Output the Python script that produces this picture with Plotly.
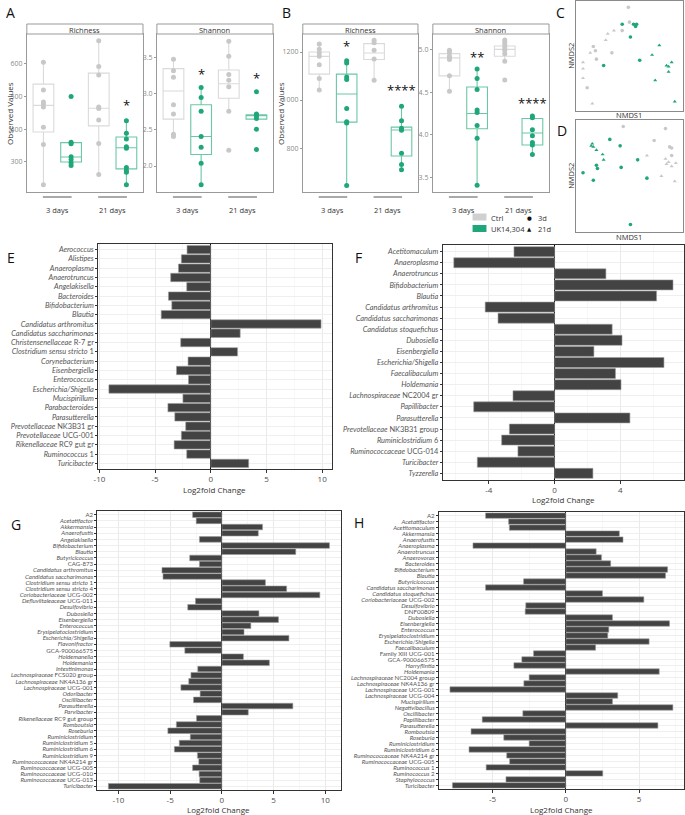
import plotly.graph_objects as go

W, H = 685, 815
FONT = "Open Sans"
LFONT = "Lato"

# ---------------- A: alpha diversity (Ctrl 3d, UK 3d, Ctrl 21d, UK 21d) ----------------
A_rich_ctrl3 = [605, 520, 483, 477, 468, 406, 353, 229]
A_rich_uk3 = [500, 360, 355, 315, 307, 297, 288]
A_rich_ctrl21 = [671, 592, 566, 468, 463, 428, 356, 261]
A_rich_uk21 = [426, 387, 370, 346, 341, 282, 273, 268, 229]
A_rich_lo = [229, 288, 261, 229]
A_rich_q1 = [391, 299, 410, 278]
A_rich_med = [473, 314.5, 464, 343]
A_rich_q3 = [538, 358.5, 572, 376]
A_rich_hi = [605, 360, 671, 426]
A_rich_sig_x = [4]
A_rich_sig_y = [482]
A_rich_sig = ["*"]

A_shan_ctrl3 = [3.48, 3.32, 3.23, 2.85, 2.72, 2.44, 2.41]
A_shan_uk3 = [3.09, 2.95, 2.76, 2.41, 2.26, 2.04, 1.74]
A_shan_ctrl21 = [3.73, 3.52, 3.27, 3.19, 3.10, 2.76, 2.22]
A_shan_uk21 = [3.03, 2.72, 2.70, 2.70, 2.66, 2.51, 2.23]
A_shan_lo = [2.41, 1.74, 2.76, 2.65]
A_shan_q1 = [2.65, 2.16, 2.94, 2.65]
A_shan_med = [3.04, 2.41, 3.14, 2.70]
A_shan_q3 = [3.35, 2.85, 3.33, 2.71]
A_shan_hi = [3.48, 3.09, 3.73, 2.72]
A_shan_sig_x = [2, 4]
A_shan_sig_y = [3.32, 3.26]
A_shan_sig = ["*", "*"]

# ---------------- B ----------------
B_rich_ctrl3 = [1233, 1212, 1196, 1182, 1147, 1090, 1042]
B_rich_uk3 = [1164, 1154, 1096, 1086, 965, 910, 904, 644]
B_rich_ctrl21 = [1249, 1239, 1207, 1171, 1082]
B_rich_uk21 = [974, 914, 883, 874, 778, 732, 710]
B_rich_lo = [1042, 644, 1082, 710]
B_rich_q1 = [1108, 908, 1169, 767]
B_rich_med = [1182, 1025, 1196, 875]
B_rich_q3 = [1200, 1108, 1235, 887]
B_rich_hi = [1233, 1164, 1249, 974]
B_rich_sig_x = [2, 4]
B_rich_sig_y = [1236, 1054]
B_rich_sig = ["*", "****"]

B_shan_ctrl3 = [4.99, 4.96, 4.92, 4.90, 4.88, 4.69, 4.51]
B_shan_uk3 = [4.77, 4.66, 4.53, 4.29, 4.26, 4.11, 3.96, 3.41]
B_shan_ctrl21 = [5.11, 5.08, 5.05, 5.02, 4.99, 4.95, 4.86, 4.64]
B_shan_uk21 = [4.22, 4.20, 4.06, 3.99, 3.91, 3.88, 3.77]
B_shan_lo = [4.51, 3.41, 4.86, 3.77]
B_shan_q1 = [4.69, 4.07, 4.92, 3.88]
B_shan_med = [4.90, 4.25, 5.00, 4.02]
B_shan_q3 = [4.95, 4.56, 5.04, 4.19]
B_shan_hi = [4.99, 4.77, 5.11, 4.22]
B_shan_sig_x = [2, 4]
B_shan_sig_y = [4.94, 4.41]
B_shan_sig = ["**", "****"]

day_labels = ["3 days", "21 days"]

# ---------------- C / D: NMDS ----------------
C_ctrl3_x = [0.49, 0.50, 0.43, 0.33, 0.18, 0.15, 0.17, 0.09]
C_ctrl3_y = [0.96, 0.82, 0.74, 0.53, 0.47, 0.59, 0.55, 0.20]
C_ctrl21_x = [0.35, 0.29, 0.27, 0.12, 0.05, 0.05, 0.05, 0.14]
C_ctrl21_y = [0.74, 0.71, 0.65, 0.53, 0.44, 0.38, 0.29, 0.05]
C_uk3_x = [0.43, 0.54, 0.57, 0.56, 0.51, 0.60, 0.25]
C_uk3_y = [0.80, 0.80, 0.80, 0.78, 0.68, 0.46, 0.41]
C_uk21_x = [0.79, 0.72, 0.91, 0.86, 0.88, 0.88, 0.75, 0.94]
C_uk21_y = [0.60, 0.51, 0.44, 0.41, 0.40, 0.35, 0.27, 0.07]

D_ctrl3_x = [0.44, 0.85, 0.74, 0.89, 0.91, 0.91]
D_ctrl3_y = [0.96, 0.94, 0.83, 0.77, 0.76, 0.69]
D_ctrl21_x = [0.67, 0.85, 0.88, 0.91, 0.86, 0.95, 0.81, 0.94]
D_ctrl21_y = [0.69, 0.66, 0.63, 0.59, 0.61, 0.62, 0.50, 0.45]
D_uk3_x = [0.31, 0.41, 0.18, 0.19, 0.05, 0.15, 0.42, 0.58, 0.67, 0.51]
D_uk3_y = [0.84, 0.78, 0.60, 0.57, 0.53, 0.46, 0.58, 0.65, 0.48, 0.05]
D_uk21_x = [0.14, 0.13, 0.15, 0.18, 0.24, 0.25]
D_uk21_y = [0.80, 0.78, 0.77, 0.74, 0.70, 0.65]

# ---------------- E ----------------
E_genera = ["Aerococcus", "Alistipes", "Anaeroplasma", "Anaerotruncus", "Angelakisella",
            "Bacteroides", "Bifidobacterium", "Blautia", "Candidatus arthromitus",
            "Candidatus saccharimonas", "Christensenellaceae R-7 gr", "Clostridium sensu stricto 1",
            "Corynebacterium", "Eisenbergiella", "Enterococcus", "Escherichia/Shigella",
            "Mucispirillum", "Parabacteroides", "Parasutterella", "Prevotellaceae NK3B31 gr",
            "Prevotellaceae UCG-001", "Rikenellaceae RC9 gut gr", "Ruminococcus 1", "Turicibacter"]
E_lfc = [-2.13, -2.64, -2.9, -3.6, -2.16, -3.8, -3.5, -4.45, 9.9, 2.64, -2.7, 2.4,
         -2.04, -3.08, -2.0, -9.15, -2.5, -3.85, -3.23, -2.25, -2.64, -3.29, -2.16, 3.4]

# ---------------- F ----------------
F_genera = ["Acetitomaculum", "Anaeroplasma", "Anaerotruncus", "Bifidobacterium", "Blautia",
            "Candidatus arthromitus", "Candidatus saccharimonas", "Candidatus stoquefichus",
            "Dubosiella", "Eisenbergiella", "Escherichia/Shigella", "Faecalibaculum", "Holdemania",
            "Lachnospiraceae NC2004 gr", "Papillibacter", "Parasutterella",
            "Prevotellaceae NK3B31 group", "Ruminiclostridium 6", "Ruminococcaceae UCG-014",
            "Turicibacter", "Tyzzerella"]
F_lfc = [-2.47, -6.13, 3.12, 7.2, 6.2, -4.22, -3.44, 3.5, 4.1, 2.39, 6.65, 3.7, 4.04,
         -2.53, -4.92, 4.58, -2.75, -3.22, -2.23, -4.7, 2.33]

# ---------------- G ----------------
G_genera = ["A2", "Acetatifactor", "Akkermansia", "Anaerofustis", "Angelakisella",
            "Bifidobacterium", "Blautia", "Butyricicoccus", "CAG-873", "Candidatus arthromitus",
            "Candidatus saccharimonas", "Clostridium sensu stricto 1", "Clostridium sensu stricto 4",
            "Coriobacteriaceae UCG-002", "Defluviitaleaceae UCG-011", "Desulfovibrio", "Dubosiella",
            "Eisenbergiella", "Enterococcus", "Erysipelatoclostridium", "Escherichia/Shigella",
            "Flavonifractor", "GCA-900066575", "Holdemanella", "Holdemania", "Intestinimonas",
            "Lachnospiraceae FCS020 group", "Lachnospiraceae NK4A136 gr", "Lachnospiraceae UCG-001",
            "Odoribacter", "Oscillibacter", "Parasutterella", "Parvibacter",
            "Rikenellaceae RC9 gut group", "Romboutsia", "Roseburia", "Ruminiclostridium",
            "Ruminiclostridium 5", "Ruminiclostridium 6", "Ruminiclostridium 9",
            "Ruminococcaceae NK4A214 gr", "Ruminococcaceae UCG-005", "Ruminococcaceae UCG-010",
            "Ruminococcaceae UCG-013", "Turicibacter"]
G_lfc = [-2.83, -2.48, 3.93, 3.52, -2.17, 10.4, 7.14, -3.11, -2.17, -5.79, -5.69, 4.21, 6.26,
         9.47, -2.55, -3.3, 3.58, 5.47, 2.8, 2.14, 6.48, -5.03, -3.58, 2.08, 4.59, -2.33,
         -2.99, -3.2, -3.96, -2.1, -2.74, 6.86, 2.55, -2.45, -4.4, -5.22, -3.05, -4.12, -4.59,
         -2.36, -2.23, -2.83, -2.2, -2.14, -10.97]

# ---------------- H ----------------
H_genera = ["A2", "Acetatifactor", "Acetitomaculum", "Akkermansia", "Anaerofustis", "Anaeroplasma",
            "Anaerotruncus", "Anaerovorax", "Bacteroides", "Bifidobacterium", "Blautia",
            "Butyricicoccus", "Candidatus saccharimonas", "Candidatus stoquefichus",
            "Coriobacteriaceae UCG-002", "Desulfovibrio", "DNF00809", "Dubosiella", "Eisenbergiella",
            "Enterococcus", "Erysipelatoclostridium", "Escherichia/Shigella", "Faecalibaculum",
            "Family XIII UCG-001", "GCA-900066575", "Harryflintia", "Holdemania",
            "Lachnospiraceae NC2004 group", "Lachnospiraceae NK4A136 gr", "Lachnospiraceae UCG-001",
            "Lachnospiraceae UCG-004", "Mucispirillum", "Negativibacillus", "Oscillibacter",
            "Papillibacter", "Parasutterella", "Romboutsia", "Roseburia", "Ruminiclostridium",
            "Ruminiclostridium 6", "Ruminococcaceae NK4A214 gr", "Ruminococcaceae UCG-005",
            "Ruminococcus 1", "Ruminococcus 2", "Staphylococcus", "Turicibacter"]
H_lfc = [-5.47, -3.9, -3.85, 3.65, 3.9, -6.33, 2.07, 2.43, 3.06, 6.94, 6.8, -2.88, -5.47, 2.5,
         5.32, -2.73, -2.77, 3.18, 7.07, 2.93, 2.86, 5.68, 2.03, -2.2, -3.0, -3.54, 6.37, -2.5,
         -2.86, -7.9, 3.54, 3.18, 7.3, -2.93, -5.7, 6.28, -6.46, -4.23, -2.5, -6.6, -4.03, -3.83,
         -5.43, 2.52, -4.08, -7.73]

E_ticks = [-10, -5, 0, 5, 10]
F_ticks = [-4, 0, 4]
G_ticks = [-10, -5, 0, 5, 10]
H_ticks = [-5, 0, 5]

# ---------------- styling ----------------
CTRL_PT, UK_PT = "#c8c8c8", "#1fa67a"
CTRL_BOX, UK_BOX = "#dadada", "#6cc7a4"
BAR_FILL, BAR_LINE = "#434343", "#9c9c9c"


def px_x(a, b):
    return [a / W, b / W]


def px_y(top, bottom):
    return [1 - bottom / H, 1 - top / H]


def refs(i):
    return ("x" if i == 1 else f"x{i}"), ("y" if i == 1 else f"y{i}")


def keys(i):
    return ("xaxis" if i == 1 else f"xaxis{i}"), ("yaxis" if i == 1 else f"yaxis{i}")


PLAIN = {"gr", "group", "gut", "Family", "XIII"}


def fmt(name):
    out = []
    for w in name.split(" "):
        if w.replace("/", "").isalpha() and w not in PLAIN and not w.isupper():
            out.append(f"<i>{w}</i>")
        else:
            out.append(w)
    return " ".join(out)


fig = go.Figure()
layout = dict(width=W, height=H, margin=dict(l=0, r=0, t=0, b=0), autosize=False,
              paper_bgcolor="white", plot_bgcolor="white", showlegend=False,
              bargap=0.1, font=dict(family=FONT, color="#333"))
shapes, annots = [], []


def pa(x, y, text, size=8, color="#333", angle=0, family=FONT, xanchor="center", yanchor="middle"):
    annots.append(dict(xref="paper", yref="paper", x=x / W, y=1 - y / H, text=text, showarrow=False,
                       textangle=angle, xanchor=xanchor, yanchor=yanchor, borderpad=0,
                       font=dict(size=size, color=color, family=family)))


# ---------- box panels ----------
box_panels = [
    (1, (22, 139), "Richness", [A_rich_ctrl3, A_rich_uk3, A_rich_ctrl21, A_rich_uk21],
     A_rich_lo, A_rich_q1, A_rich_med, A_rich_q3, A_rich_hi, [207, 692], [300, 400, 500, 600], None,
     A_rich_sig_x, A_rich_sig_y, A_rich_sig),
    (2, (153, 270), "Shannon", [A_shan_ctrl3, A_shan_uk3, A_shan_ctrl21, A_shan_uk21],
     A_shan_lo, A_shan_q1, A_shan_med, A_shan_q3, A_shan_hi, [1.64, 3.83], [2.0, 2.5, 3.0, 3.5], ".1f",
     A_shan_sig_x, A_shan_sig_y, A_shan_sig),
    (3, (300, 416), "Richness", [B_rich_ctrl3, B_rich_uk3, B_rich_ctrl21, B_rich_uk21],
     B_rich_lo, B_rich_q1, B_rich_med, B_rich_q3, B_rich_hi, [617, 1275], [800, 1000, 1200], None,
     B_rich_sig_x, B_rich_sig_y, B_rich_sig),
    (4, (431, 548), "Shannon", [B_shan_ctrl3, B_shan_uk3, B_shan_ctrl21, B_shan_uk21],
     B_shan_lo, B_shan_q1, B_shan_med, B_shan_q3, B_shan_hi, [3.33, 5.18], [3.5, 4.0, 4.5, 5.0], ".1f",
     B_shan_sig_x, B_shan_sig_y, B_shan_sig),
]

for (i, (x0, x1), title, pts, lo, q1, med, q3, hi, yr, tv, tf, sx, sy, st) in box_panels:
    xa, ya = refs(i)
    xk, yk = keys(i)
    for grp, idx in ((0, [0, 2]), (1, [1, 3])):
        fig.add_trace(go.Box(
            x=[k + 1 for k in idx], q1=[q1[k] for k in idx], median=[med[k] for k in idx],
            q3=[q3[k] for k in idx], lowerfence=[lo[k] for k in idx], upperfence=[hi[k] for k in idx],
            width=0.75, whiskerwidth=0, boxpoints=False,
            line=dict(color=CTRL_BOX if grp == 0 else UK_BOX, width=1.1),
            fillcolor="rgba(255,255,255,0)", xaxis=xa, yaxis=ya, hoverinfo="skip"))
    for k in range(4):
        fig.add_trace(go.Scatter(x=[k + 1] * len(pts[k]), y=pts[k], mode="markers",
                                 marker=dict(size=5, color=CTRL_PT if k % 2 == 0 else UK_PT),
                                 xaxis=xa, yaxis=ya, hoverinfo="skip"))
    layout[xk] = dict(domain=px_x(x0, x1), range=[0.4, 4.6], showticklabels=False, ticks="",
                      showgrid=False, zeroline=False, showline=True, mirror=True,
                      linecolor="#9a9a9a", linewidth=1, anchor=ya)
    ydict = dict(domain=px_y(34, 192), range=yr, tickvals=tv, ticks="outside", ticklen=2,
                 tickcolor="#9a9a9a", tickfont=dict(size=7, color="#8a8a8a", family=FONT),
                 showgrid=False, zeroline=False, showline=True, mirror=True,
                 linecolor="#9a9a9a", linewidth=1, anchor=xa)
    if tf:
        ydict["tickformat"] = tf
    layout[yk] = ydict
    # strip
    shapes.append(dict(type="rect", xref="paper", yref="paper", x0=x0 / W, x1=x1 / W,
                       y0=1 - 34 / H, y1=1 - 24 / H, line=dict(color="#9a9a9a", width=1),
                       fillcolor="white"))
    pa((x0 + x1) / 2, 29.5, title, size=7.5, color="#333")
    # day groups
    for j, lab in enumerate(day_labels):
        c = 1.5 + 2 * j
        shapes.append(dict(type="line", xref=xa, yref="paper", x0=c - 0.52, x1=c + 0.52,
                           y0=1 - 197 / H, y1=1 - 197 / H, line=dict(color="#555", width=1)))
        annots.append(dict(xref=xa, yref="paper", x=c, y=1 - 203.5 / H, text=lab, showarrow=False,
                           borderpad=0, font=dict(size=7.5, color="#333", family=FONT)))
    for xv, yv, t in zip(sx, sy, st):
        annots.append(dict(xref=xa, yref=ya, x=xv, y=yv, text=t, showarrow=False, yshift=-3,
                           font=dict(size=13, color="#111", family=FONT)))

pa(5, 113, "Observed Values", size=8, angle=-90)
pa(278, 113, "Observed Values", size=8, angle=-90)

# ---------- NMDS panels ----------
nmds = [
    (5, (575, 683), (1, 111), C_ctrl3_x, C_ctrl3_y, C_ctrl21_x, C_ctrl21_y,
     C_uk3_x, C_uk3_y, C_uk21_x, C_uk21_y),
    (6, (575, 683), (120, 232), D_ctrl3_x, D_ctrl3_y, D_ctrl21_x, D_ctrl21_y,
     D_uk3_x, D_uk3_y, D_uk21_x, D_uk21_y),
]
for (i, (x0, x1), (t, b), c3x, c3y, c21x, c21y, u3x, u3y, u21x, u21y) in nmds:
    xa, ya = refs(i)
    xk, yk = keys(i)
    for xs, ys, col, sym in ((c3x, c3y, CTRL_PT, "circle"), (c21x, c21y, CTRL_PT, "triangle-up"),
                             (u3x, u3y, UK_PT, "circle"), (u21x, u21y, UK_PT, "triangle-up")):
        fig.add_trace(go.Scatter(x=xs, y=ys, mode="markers",
                                 marker=dict(size=3.6, color=col, symbol=sym),
                                 xaxis=xa, yaxis=ya, hoverinfo="skip"))
    common = dict(showticklabels=False, ticks="", showgrid=False, zeroline=False, showline=True,
                  mirror=True, linecolor="#8a8a8a", linewidth=1)
    layout[xk] = dict(domain=px_x(x0, x1), range=[-0.02, 1.02], anchor=ya, **common)
    layout[yk] = dict(domain=px_y(t, b), range=[-0.02, 1.02], anchor=xa, **common)
    pa((x0 + x1) / 2, b + 4.5, "NMDS1", size=7.5, color="#333")
    pa(570, (t + b) / 2, "NMDS2", size=7.5, color="#333", angle=-90)

# legend
shapes.append(dict(type="rect", xref="paper", yref="paper", x0=471 / W, x1=485 / W,
                   y0=1 - 220.5 / H, y1=1 - 213.5 / H, line=dict(width=0), fillcolor="#d0d0d0"))
shapes.append(dict(type="rect", xref="paper", yref="paper", x0=471 / W, x1=485 / W,
                   y0=1 - 232 / H, y1=1 - 225 / H, line=dict(width=0), fillcolor=UK_PT))
pa(489, 217.5, "Ctrl", size=7.5, xanchor="left")
pa(489, 229, "UK14,304", size=7.5, xanchor="left")
pa(528.5, 217.5, "●", size=5.5, color="#111", family="DejaVu Sans")
pa(528.5, 229, "▲", size=5.5, color="#111", family="DejaVu Sans")
pa(536, 217.5, "3d", size=7.5, xanchor="left")
pa(536, 229, "21d", size=7.5, xanchor="left")

# ---------- bar panels ----------
bar_panels = [
    (7, (94, 329), (244, 469), E_genera, E_lfc, [-10.1, 10.85], E_ticks, 2.5, 7.4, 489.5),
    (8, (441, 684), (245, 480), F_genera, F_lfc, [-6.8, 7.87], F_ticks, 2, 7.4, 499.5),
    (9, (93, 338), (511, 790), G_genera, G_lfc, [-12.04, 11.47], G_ticks, 2.5, 6.1, 809.5),
    (10, (437, 684), (512, 789), H_genera, H_lfc, [-8.66, 8.06], H_ticks, 2.5, 6.1, 809.5),
]
for (i, (x0, x1), (t, b), cats, vals, xr, ticks, minor, lsize, tty) in bar_panels:
    xa, ya = refs(i)
    xk, yk = keys(i)
    n = len(cats)
    fig.add_trace(go.Bar(y=cats, x=vals, orientation="h",
                         marker=dict(color=BAR_FILL, line=dict(color=BAR_LINE, width=0.6)),
                         xaxis=xa, yaxis=ya, hoverinfo="skip"))
    layout[xk] = dict(domain=px_x(x0, x1), range=xr, tickvals=ticks,
                      ticktext=[str(v) for v in ticks], ticks="outside", ticklen=2.5,
                      tickcolor="#333", tickfont=dict(size=8, color="#4d4d4d", family=FONT),
                      showgrid=True, gridcolor="#e6e6e6", gridwidth=0.8,
                      minor=dict(dtick=minor, tick0=0, showgrid=True, gridcolor="#f2f2f2",
                                 gridwidth=0.6, ticks=""),
                      zeroline=True, zerolinecolor="#000", zerolinewidth=1.2,
                      showline=True, mirror=True, linecolor="#333", linewidth=1, anchor=ya)
    layout[yk] = dict(domain=px_y(t, b), type="category", categoryorder="array",
                      categoryarray=cats, range=[n - 0.4, -0.6], tickvals=cats,
                      ticktext=[fmt(c) for c in cats], ticks="outside", ticklen=2,
                      tickcolor="#333", tickfont=dict(size=lsize, color="#555", family=LFONT),
                      showgrid=True, gridcolor="#ebebeb", gridwidth=0.8, zeroline=False,
                      showline=True, mirror=True, linecolor="#333", linewidth=1, anchor=xa)
    pa((x0 + x1) / 2, tty, "Log2fold Change", size=8, color="#333")

# panel letters
for letter, (lx, ly) in zip("ABCDEFGH", [(6, 12), (284, 12), (560, 12), (561, 131),
                                         (6, 258), (356, 258), (11, 524), (357, 522)]):
    pa(lx, ly, letter, size=14, color="#111")

layout["shapes"] = shapes
layout["annotations"] = annots
fig.update_layout(**layout)
fig.write_html("out.html", config={"displayModeBar": False, "staticPlot": True},
               post_script="document.body.style.margin='0';document.body.style.overflow='hidden';")
